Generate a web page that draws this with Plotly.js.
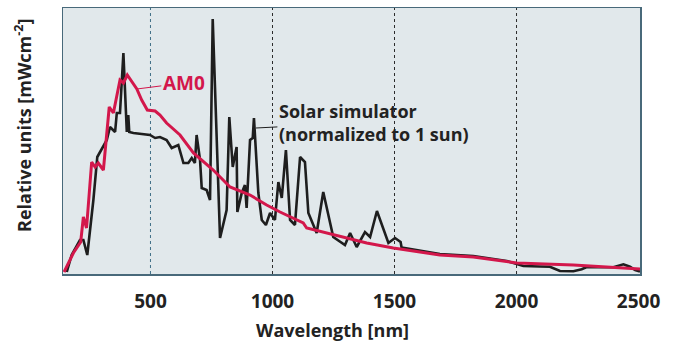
<!DOCTYPE html>
<html>
<head>
<meta charset="utf-8">
<script src="https://cdn.plot.ly/plotly-3.0.1.min.js"></script>
<style>html,body{margin:0;padding:0;background:#fff;}#chart{width:676px;height:342px;}</style>
</head>
<body>
<div id="chart"></div>
<script>
// Solar simulator (normalized to 1 sun): wavelength [nm] and relative units
const simWavelength = [157,177,211,225,241,266,282,307,321,334,355,362,375,389,403,409,413,430,498,519,539,566,587,614,635,655,669,682,689,703,710,730,744,755,785,812,823,837,853,856,874,887,894,908,919,924,942,956,973,990,1010,1024,1038,1055,1072,1092,1113,1133,1147,1181,1208,1249,1297,1318,1345,1379,1400,1428,1475,1502,1525,1529,1686,1823,1960,2001,2028,2096,2137,2178,2233,2267,2288,2342,2397,2438,2465,2486,2506];
const simValue = [0.02,0.19,0.34,0.34,0.19,0.74,1.17,1.27,1.34,1.47,1.42,1.61,1.61,2.21,1.42,1.59,1.42,1.41,1.39,1.36,1.37,1.34,1.26,1.29,1.11,1.11,1.16,1.11,1.39,1.14,0.86,0.84,0.74,2.55,0.36,0.64,1.57,1.07,1.27,0.62,0.81,0.89,0.66,1.34,1.36,1.56,0.81,0.54,0.49,0.61,0.54,0.92,0.76,1.24,0.54,0.49,1.17,1.12,0.61,0.41,0.82,0.37,0.29,0.41,0.27,0.42,0.37,0.63,0.31,0.36,0.32,0.265,0.20,0.18,0.13,0.10,0.08,0.075,0.073,0.03,0.028,0.047,0.07,0.067,0.067,0.097,0.073,0.04,0.025];
// AM0 spectrum
const amWavelength = [146,184,214,225,238,259,273,286,307,331,348,375,389,405,444,464,487,519,539,566,621,676,757,826,908,976,1031,1085,1126,1140,1222,1304,1386,1495,1686,1823,2001,2233,2370,2506];
const amValue = [0.02,0.21,0.32,0.57,0.46,1.12,1.07,1.11,1.04,1.67,1.61,1.94,1.91,1.99,1.85,1.74,1.64,1.63,1.59,1.51,1.39,1.21,1.04,0.87,0.79,0.69,0.62,0.56,0.51,0.46,0.41,0.36,0.31,0.26,0.19,0.17,0.11,0.09,0.073,0.05];
const tickVals = [500,1000,1500,2000,2500];
const tickText = ['500','1000','1500','2000','2500'];
const gridVals = [500,1000,1500,2000];

const FONT = '"Open Sans", "DejaVu Sans", sans-serif';
const RED = '#d3174b';
const DARK = '#1e1e1e';

const traces = [
  {x: simWavelength, y: simValue, type: 'scatter', mode: 'lines', name: 'Solar simulator',
   line: {color: DARK, width: 2.6, shape: 'linear'}, hoverinfo: 'skip'},
  {x: amWavelength, y: amValue, type: 'scatter', mode: 'lines', name: 'AM0',
   line: {color: RED, width: 3, shape: 'linear'}, hoverinfo: 'skip'}
];

const gridShapes = gridVals.map((v, i) => ({
  type: 'line', xref: 'x', yref: 'paper', x0: v, x1: v, y0: 0, y1: 1,
  layer: 'below',
  line: {color: i === 0 ? '#3f6f86' : '#2b2b2b', width: 1, dash: 'dot'}
}));

const layout = {
  width: 676, height: 342,
  margin: {l: 63, r: 36, t: 8, b: 68},
  paper_bgcolor: '#ffffff',
  plot_bgcolor: '#e1e8eb',
  showlegend: false,
  font: {family: FONT, color: '#222'},
  xaxis: {
    range: [141.5, 2506],
    tickvals: tickVals, ticktext: tickText,
    ticks: 'outside', ticklen: 10, tickcolor: 'rgba(0,0,0,0)',
    tickfont: {family: FONT, size: 19, weight: 'bold', color: '#222'},
    showgrid: false, zeroline: false,
    showline: true, mirror: true, linecolor: '#48697a', linewidth: 1.5
  },
  yaxis: {
    range: [0, 2.66],
    showticklabels: false, ticks: '', showgrid: false, zeroline: false,
    showline: true, mirror: true, linecolor: '#48697a', linewidth: 1.5
  },
  shapes: gridShapes,
  annotations: [
    {xref: 'paper', yref: 'paper', x: (332 - 63) / 577, y: (274 - 330) / 266,
     text: 'Wavelength [nm]', showarrow: false, xanchor: 'center', yanchor: 'middle',
     font: {family: FONT, size: 18, weight: 'bold', color: '#222'}},
    {xref: 'paper', yref: 'paper', x: (23 - 63) / 577, y: (274 - 125) / 266,
     text: 'Relative units [mWcm<sup>-2</sup>]', textangle: -90, showarrow: false,
     xanchor: 'center', yanchor: 'middle',
     font: {family: FONT, size: 18, weight: 'bold', color: '#222'}},
    {x: amWavelength[14], y: amValue[14], xref: 'x', yref: 'y',
     text: 'AM0', showarrow: true, arrowhead: 0, arrowwidth: 1, arrowcolor: RED,
     ax: 47, ay: -6, standoff: 0,
     font: {family: FONT, size: 19, weight: 'bold', color: RED}},
    {x: 932, y: 1.46, xref: 'x', yref: 'y',
     text: 'Solar simulator<br>(normalized to 1 sun)', align: 'left',
     showarrow: true, arrowhead: 0, arrowwidth: 1, arrowcolor: DARK,
     ax: 118, ay: -6, standoff: 0,
     font: {family: FONT, size: 18, weight: 'bold', color: '#222'}}
  ]
};

Plotly.newPlot('chart', traces, layout, {displayModeBar: false, staticPlot: true});
</script>
</body>
</html>
